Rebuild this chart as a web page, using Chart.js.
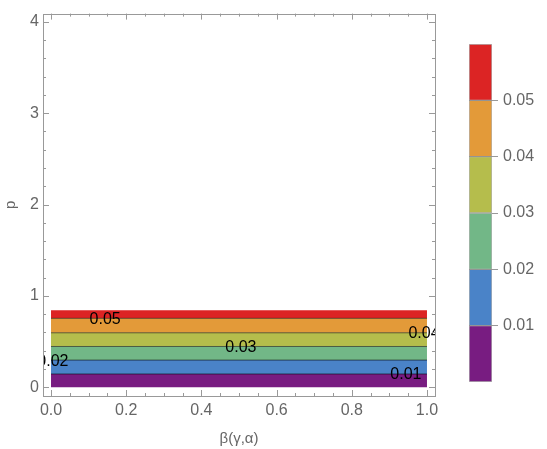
<!DOCTYPE html>
<html>
<head>
<meta charset="utf-8">
<script src="https://cdn.jsdelivr.net/npm/chart.js@4/dist/chart.umd.min.js"></script>
<style>
  html, body { margin: 0; padding: 0; background: #fff; }
  #wrap { position: relative; width: 547px; height: 449px; }
  #main { position: absolute; left: 0; top: 0; }
  #bar { position: absolute; left: 440px; top: 0; }
</style>
</head>
<body>
<div id="wrap">
  <canvas id="main" width="547" height="449"></canvas>
  <canvas id="bar" width="107" height="449"></canvas>
</div>
<script>
// contour levels and the p value of each band's upper edge (x runs 0..1, bands are flat)
var levels = [0.01, 0.02, 0.03, 0.04, 0.05]
var bandTop = [0.145, 0.297, 0.446, 0.596, 0.754, 0.843]
var bandColors = ['#781c81', '#4a83c8', '#72b787', '#b5bd4c', '#e39a39', '#dc2424']
var xRange = [0, 1]
// contour labels (text sits on the line, x where it was placed)
var labelText = ['0.01', '0.02', '0.03', '0.04', '0.05']
var labelX = [0.944, 0.005, 0.505, 0.992, 0.144]
var labelY = [0.145, 0.297, 0.446, 0.596, 0.754]
// axis ticks
var xTicks = [0, 0.2, 0.4, 0.6, 0.8, 1.0]
var yTicks = [0, 1, 2, 3, 4]
var barTicks = [0.01, 0.02, 0.03, 0.04, 0.05]

var gray = '#666'
var frameGray = '#999'
var font15 = { family: 'Liberation Sans, Arial, sans-serif', size: 15 }
var font16 = { family: 'Liberation Sans, Arial, sans-serif', size: 16 }

var datasets = []
for (var i = 0; i < bandTop.length; i++) {
    datasets.push({
        data: [{ x: xRange[0], y: bandTop[i] }, { x: xRange[1], y: bandTop[i] }],
        showLine: true,
        pointRadius: 0,
        backgroundColor: bandColors[i],
        borderColor: i < levels.length ? 'rgba(0,0,0,0.55)' : 'rgba(0,0,0,0)',
        borderWidth: i < levels.length ? 1 : 0,
        fill: i == 0 ? { value: 0 } : '-1'
    })
}

// frame + inward tick marks on all four sides (Mathematica style)
var framePlugin = {
    id: 'frame',
    afterDraw: function (chart) {
        var ctx = chart.ctx, a = chart.chartArea
        var sx = chart.scales.x, sy = chart.scales.y
        ctx.save()
        ctx.strokeStyle = frameGray
        ctx.lineWidth = 1
        ctx.strokeRect(Math.round(a.left) + 0.5, Math.round(a.top) + 0.5,
            Math.round(a.right - a.left), Math.round(a.bottom - a.top))
        ctx.beginPath()
        for (var k = 0; k <= 20; k++) {
            var v = k * 0.05
            var len = (k % 4 == 0) ? 6 : 3
            var px = Math.round(sx.getPixelForValue(v)) + 0.5
            ctx.moveTo(px, a.bottom); ctx.lineTo(px, a.bottom - len)
            ctx.moveTo(px, a.top); ctx.lineTo(px, a.top + len)
        }
        for (var k = 0; k <= 20; k++) {
            var v = k * 0.2
            var len = (k % 5 == 0) ? 6 : 3
            var py = Math.round(sy.getPixelForValue(v)) + 0.5
            ctx.moveTo(a.left, py); ctx.lineTo(a.left + len, py)
            ctx.moveTo(a.right, py); ctx.lineTo(a.right - len, py)
        }
        ctx.stroke()
        ctx.restore()
    }
}

// contour labels, clipped to the plot area
var labelPlugin = {
    id: 'clabels',
    afterDatasetsDraw: function (chart) {
        var ctx = chart.ctx, a = chart.chartArea
        ctx.save()
        ctx.beginPath()
        ctx.rect(a.left, a.top, a.right - a.left, a.bottom - a.top)
        ctx.clip()
        ctx.fillStyle = '#000'
        ctx.font = '16px Liberation Sans, Arial, sans-serif'
        ctx.textAlign = 'center'
        ctx.textBaseline = 'middle'
        for (var i = 0; i < labelText.length; i++) {
            ctx.fillText(labelText[i], chart.scales.x.getPixelForValue(labelX[i]),
                chart.scales.y.getPixelForValue(labelY[i]) + 1)
        }
        ctx.restore()
    }
}

var mainChart = new Chart(document.getElementById('main'), {
    type: 'scatter',
    data: { datasets: datasets },
    options: {
        responsive: false,
        animation: false,
        layout: { padding: { left: 0, top: 5, right: 112, bottom: 0 } },
        plugins: {
            legend: { display: false },
            tooltip: { enabled: false },
            filler: { drawTime: 'beforeDatasetsDraw' }
        },
        scales: {
            x: {
                type: 'linear', min: -0.0213, max: 1.0213,
                afterBuildTicks: function (s) { s.ticks = xTicks.map(function (v) { return { value: v } }) },
                afterFit: function (s) { s.height = 53 },
                ticks: { color: gray, font: font16, padding: 5, maxRotation: 0,
                    callback: function (v) { return v.toFixed(1) } },
                grid: { display: false, drawTicks: false },
                border: { display: false },
                title: { display: true, text: 'β(γ,α)', color: gray, font: font15, padding: { top: 0, bottom: 1 } }
            },
            y: {
                type: 'linear', min: -0.096, max: 4.09,
                afterBuildTicks: function (s) { s.ticks = yTicks.map(function (v) { return { value: v } }) },
                afterFit: function (s) { s.width = 43 },
                ticks: { color: gray, font: font16, padding: 4 },
                grid: { display: false, drawTicks: false },
                border: { display: false },
                title: { display: true, text: 'p', color: gray, font: font15, padding: { top: 2, bottom: 0 } }
            }
        }
    },
    plugins: [framePlugin, labelPlugin]
})

// colour bar legend
var barSets = []
for (var i = 0; i < bandColors.length; i++) {
    barSets.push({
        data: [0.01],
        backgroundColor: bandColors[i],
        borderColor: 'rgba(0,0,0,0.3)',
        borderWidth: 1,
        borderSkipped: false,
        barPercentage: 1,
        categoryPercentage: 1
    })
}
var barChart = new Chart(document.getElementById('bar'), {
    type: 'bar',
    data: { labels: [''], datasets: barSets },
    options: {
        responsive: false,
        animation: false,
        layout: { padding: { left: 29, top: 44, right: 0, bottom: 67 } },
        plugins: { legend: { display: false }, tooltip: { enabled: false } },
        scales: {
            x: { stacked: true, display: false },
            y: {
                stacked: true, position: 'right', min: 0, max: 0.06,
                afterBuildTicks: function (s) { s.ticks = barTicks.map(function (v) { return { value: v } }) },
                afterFit: function (s) { s.width = 55 },
                ticks: { color: gray, font: font16, padding: 5,
                    callback: function (v) { return v.toFixed(2) } },
                grid: { drawOnChartArea: false, drawTicks: true, tickLength: 6, color: frameGray },
                border: { display: false }
            }
        }
    }
})
</script>
</body>
</html>
